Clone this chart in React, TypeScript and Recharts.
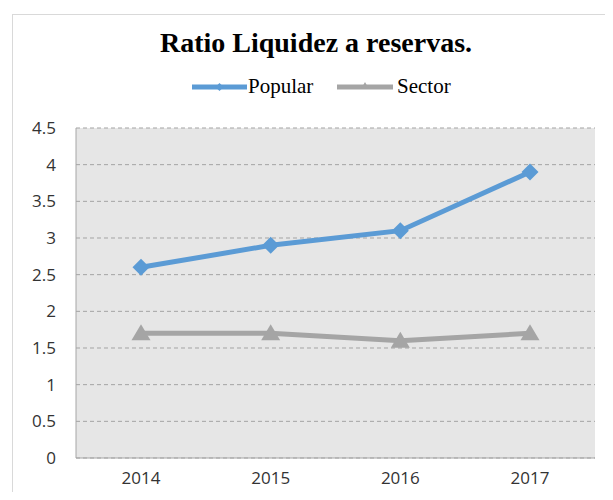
import { LineChart, Line, XAxis, YAxis, CartesianGrid } from 'recharts'

const years = ['2014', '2015', '2016', '2017']
const popular = [2.6, 2.9, 3.1, 3.9]
const sector = [1.7, 1.7, 1.6, 1.7]
const yTicks = [0, 0.5, 1, 1.5, 2, 2.5, 3, 3.5, 4, 4.5]

const BLUE = '#5b9bd5'
const GRAY = '#a5a5a5'

const data = years.map((year, i) => ({ year, popular: popular[i], sector: sector[i] }))

function Diamond({ cx, cy }: { cx?: number; cy?: number }) {
  if (cx == null || cy == null) return null
  const r = 8.5
  return (
    <polygon
      points={`${cx},${cy - r} ${cx + r},${cy} ${cx},${cy + r} ${cx - r},${cy}`}
      fill={BLUE}
    />
  )
}

function Triangle({ cx, cy }: { cx?: number; cy?: number }) {
  if (cx == null || cy == null) return null
  return (
    <polygon
      points={`${cx},${cy - 9} ${cx + 9.5},${cy + 7} ${cx - 9.5},${cy + 7}`}
      fill={GRAY}
    />
  )
}

export default function App() {
  return (
    <div style={{ position: 'relative', width: 613, height: 500, margin: -8, background: '#fff', overflow: 'hidden' }}>
      {/* chart frame, only top and left visible */}
      <div
        style={{
          position: 'absolute',
          left: 12,
          top: 14,
          width: 700,
          height: 600,
          borderLeft: '1px solid #d9d9d9',
          borderTop: '1px solid #d9d9d9',
        }}
      />
      <svg width={613} height={120} style={{ position: 'absolute', left: 0, top: 0 }}>
        <text
          x={316}
          y={52}
          textAnchor="middle"
          fontFamily="'Liberation Serif', serif"
          fontWeight="bold"
          fontSize={28}
          fill="#000"
        >
          Ratio Liquidez a reservas.
        </text>
        {/* Legend */}
        <line x1={192} y1={87} x2={247} y2={87} stroke={BLUE} strokeWidth={5} />
        <polygon points="219.5,83 223.5,87 219.5,91 215.5,87" fill={BLUE} />
        <text x={248} y={93} fontFamily="'Liberation Serif', serif" fontSize={21} fill="#000">
          Popular
        </text>
        <line x1={337} y1={87} x2={393} y2={87} stroke={GRAY} strokeWidth={5} />
        <polygon points="365,82 369,89 361,89" fill={GRAY} />
        <text x={397} y={93} fontFamily="'Liberation Serif', serif" fontSize={21} fill="#000">
          Sector
        </text>
      </svg>
      <div style={{ position: 'absolute', left: 0, top: 0 }}>
        <LineChart width={613} height={500} data={data} margin={{ top: 128, right: 18, bottom: 0, left: 16 }}>
          <CartesianGrid
            vertical={false}
            fill="#e6e6e6"
            stroke="#a3a3a3"
            strokeDasharray="4 3"
          />
          <XAxis
            dataKey="year"
            height={42}
            padding={{ left: 65, right: 65 }}
            axisLine={{ stroke: '#a6a6a6' }}
            tickLine={false}
            tickSize={0}
            tickMargin={14}
            tick={{ fontFamily: "'Open Sans', sans-serif", fontSize: 17, fill: '#333' }}
          />
          <YAxis
            width={60}
            domain={[0, 4.5]}
            ticks={yTicks}
            interval={0}
            axisLine={{ stroke: '#a6a6a6' }}
            tickLine={false}
            tickSize={0}
            tickMargin={20}
            tick={{ fontFamily: "'Open Sans', sans-serif", fontSize: 17, fill: '#333' }}
          />
          <Line
            dataKey="popular"
            stroke={BLUE}
            strokeWidth={5}
            dot={<Diamond />}
            activeDot={false}
            isAnimationActive={false}
          />
          <Line
            dataKey="sector"
            stroke={GRAY}
            strokeWidth={5}
            dot={<Triangle />}
            activeDot={false}
            isAnimationActive={false}
          />
        </LineChart>
      </div>
    </div>
  )
}
